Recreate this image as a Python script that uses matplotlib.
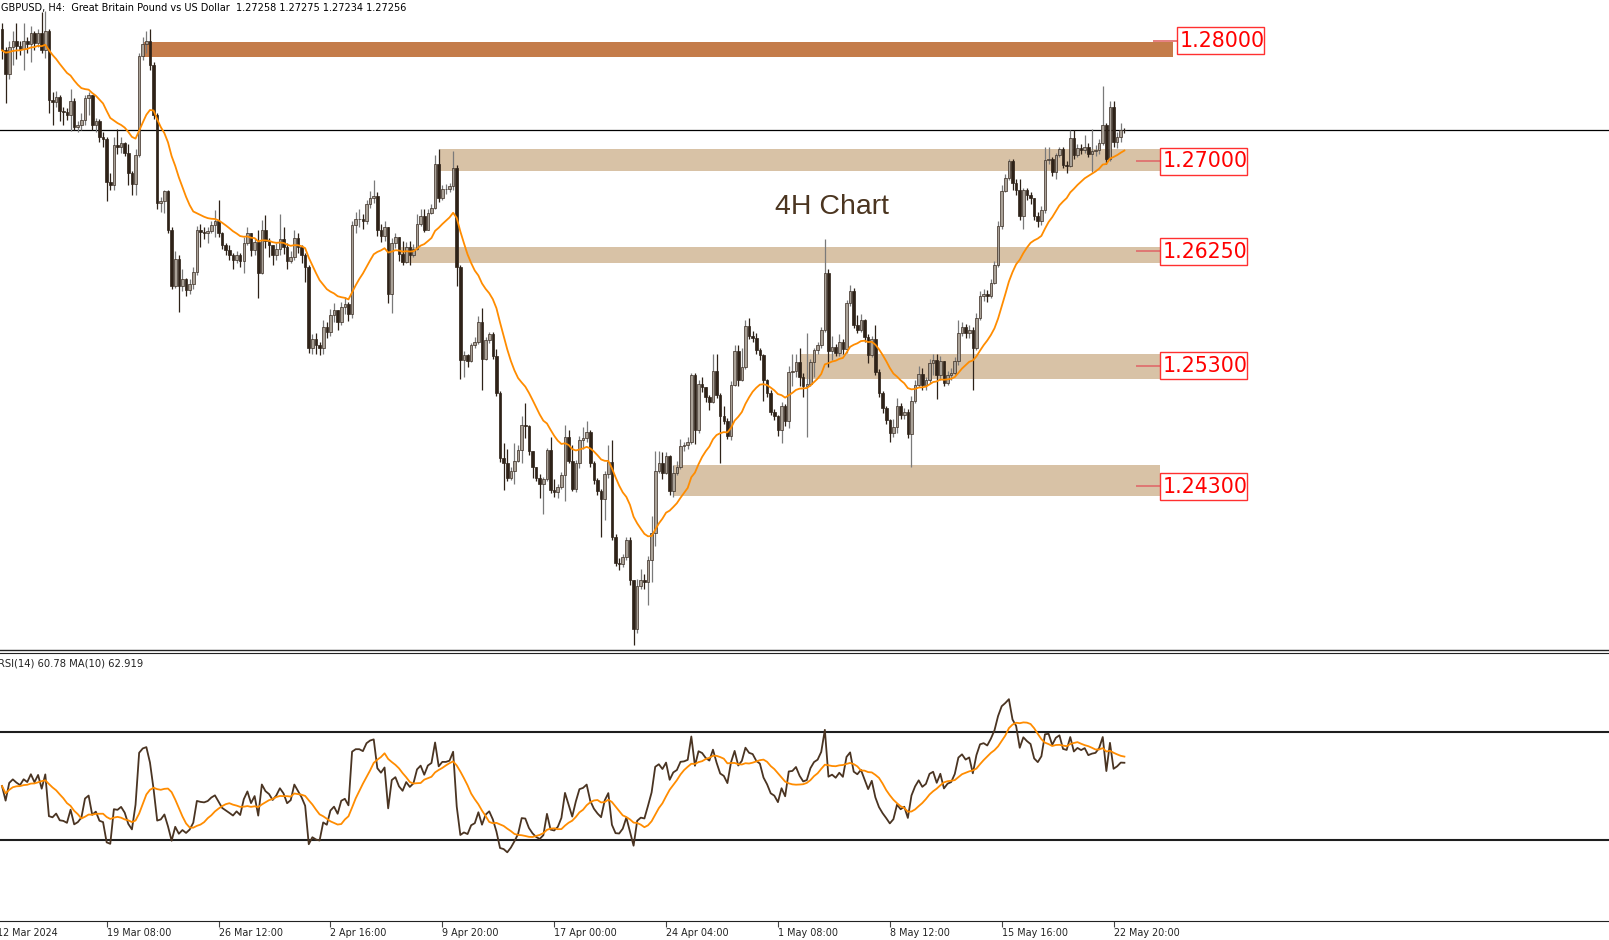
import matplotlib
matplotlib.use("Agg")
import matplotlib.pyplot as plt
from matplotlib.patches import Rectangle
import numpy as np
import pandas as pd

# GBPUSD H4 bars (one value per candle)
first_open = 1.2810
closes = [
    1.2792, 1.2772, 1.2795, 1.2800, 1.2796, 1.2793, 1.2800, 1.2797, 1.2806, 1.2798,
    1.2806, 1.2792, 1.2808, 1.2751, 1.2749, 1.2753, 1.2742, 1.2741, 1.2738, 1.2750,
    1.2728, 1.2730, 1.2734, 1.2752, 1.2755, 1.2730, 1.2733, 1.2720, 1.2718, 1.2683,
    1.2680, 1.2713, 1.2712, 1.2715, 1.2707, 1.2690, 1.2681, 1.2705, 1.2787, 1.2797,
    1.2800, 1.2780, 1.2738, 1.2665, 1.2667, 1.2675, 1.2643, 1.2596, 1.2619, 1.2596,
    1.2602, 1.2593, 1.2598, 1.2608, 1.2643, 1.2641, 1.2640, 1.2642, 1.2647, 1.2650,
    1.2640, 1.2630, 1.2626, 1.2622, 1.2618, 1.2622, 1.2617, 1.2632, 1.2640, 1.2626,
    1.2633, 1.2607, 1.2643, 1.2634, 1.2630, 1.2622, 1.2627, 1.2635, 1.2629, 1.2617,
    1.2620, 1.2636, 1.2629, 1.2622, 1.2612, 1.2545, 1.2552, 1.2547, 1.2545, 1.2562,
    1.2558, 1.2572, 1.2576, 1.2566, 1.2579, 1.2581, 1.2573, 1.2647, 1.2652, 1.2652,
    1.2650, 1.2664, 1.2669, 1.2671, 1.2643, 1.2638, 1.2645, 1.2590, 1.2632, 1.2637,
    1.2623, 1.2616, 1.2629, 1.2622, 1.2627, 1.2648, 1.2654, 1.2643, 1.2657, 1.2661,
    1.2698, 1.2669, 1.2677, 1.2677, 1.2679, 1.2694, 1.2612, 1.2535, 1.2539, 1.2534,
    1.2547, 1.2550, 1.2566, 1.2536, 1.2551, 1.2556, 1.2538, 1.2507, 1.2453, 1.2449,
    1.2437, 1.2443, 1.2451, 1.2460, 1.2481, 1.2480, 1.2459, 1.2446, 1.2437, 1.2432,
    1.2436, 1.2460, 1.2427, 1.2425, 1.2429, 1.2439, 1.2471, 1.2451, 1.2428, 1.2449,
    1.2468, 1.2470, 1.2475, 1.2449, 1.2435, 1.2426, 1.2419, 1.2440, 1.2450, 1.2388,
    1.2366, 1.2365, 1.2371, 1.2385, 1.2352, 1.2311, 1.2347, 1.2352, 1.2350, 1.2369,
    1.2391, 1.2443, 1.2449, 1.2441, 1.2455, 1.2426, 1.2441, 1.2446, 1.2463, 1.2464,
    1.2467, 1.2522, 1.2477, 1.2515, 1.2512, 1.2504, 1.2500, 1.2526, 1.2506, 1.2488,
    1.2484, 1.2472, 1.2514, 1.2542, 1.2518, 1.2529, 1.2563, 1.2555, 1.2553, 1.2543,
    1.2539, 1.2518, 1.2507, 1.2492, 1.2488, 1.2477, 1.2497, 1.2484, 1.2525, 1.2526,
    1.2533, 1.2521, 1.2513, 1.2515, 1.2533, 1.2543, 1.2547, 1.2560, 1.2607, 1.2542,
    1.2546, 1.2541, 1.2550, 1.2544, 1.2582, 1.2592, 1.2564, 1.2560, 1.2568, 1.2554,
    1.2539, 1.2552, 1.2525, 1.2507, 1.2495, 1.2485, 1.2474, 1.2479, 1.2497, 1.2489,
    1.2492, 1.2473, 1.2501, 1.2514, 1.2523, 1.2514, 1.2518, 1.2532, 1.2535, 1.2522,
    1.2534, 1.2516, 1.2522, 1.2524, 1.2534, 1.2557, 1.2562, 1.2557, 1.2560, 1.2545,
    1.2570, 1.2588, 1.2590, 1.2588, 1.2599, 1.2614, 1.2646, 1.2675, 1.2686, 1.2700,
    1.2682, 1.2676, 1.2654, 1.2676, 1.2672, 1.2669, 1.2654, 1.2650, 1.2659, 1.2701,
    1.2702, 1.2691, 1.2705, 1.2710, 1.2697, 1.2696, 1.2719, 1.2705, 1.2711, 1.2709,
    1.2712, 1.2706, 1.2708, 1.2709, 1.2715, 1.2730, 1.2702, 1.2745, 1.2716, 1.2720,
    1.27258, 1.27256,
]
highs = [
    1.2815, 1.2795, 1.2800, 1.2808, 1.2815, 1.2800, 1.2815, 1.2803, 1.2812, 1.2808,
    1.2810, 1.2824, 1.2825, 1.2810, 1.2757, 1.2758, 1.2755, 1.2745, 1.2744, 1.2760,
    1.2752, 1.2733, 1.2740, 1.2755, 1.2757, 1.2755, 1.2736, 1.2735, 1.2724, 1.2720,
    1.2690, 1.2720, 1.2727, 1.2720, 1.2716, 1.2714, 1.2692, 1.2710, 1.2790, 1.2803,
    1.2808, 1.2810, 1.2782, 1.2740, 1.2670, 1.2676, 1.2676, 1.2645, 1.2625, 1.2622,
    1.2610, 1.2603, 1.2602, 1.2612, 1.2646, 1.2648, 1.2645, 1.2645, 1.2650, 1.2659,
    1.2668, 1.2641, 1.2632, 1.2630, 1.2624, 1.2625, 1.2624, 1.2637, 1.2645, 1.2636,
    1.2636, 1.2643, 1.2651, 1.2655, 1.2636, 1.2630, 1.2632, 1.2656, 1.2645, 1.2632,
    1.2625, 1.2643, 1.2640, 1.2630, 1.2624, 1.2614, 1.2556, 1.2557, 1.2550, 1.2568,
    1.2566, 1.2577, 1.2582, 1.2576, 1.2583, 1.2587, 1.2583, 1.2650, 1.2658, 1.2660,
    1.2656, 1.2668, 1.2675, 1.2684, 1.2674, 1.2648, 1.2650, 1.2645, 1.2636, 1.2640,
    1.2628, 1.2634, 1.2633, 1.2634, 1.2631, 1.2656, 1.2660, 1.2660, 1.2660, 1.2664,
    1.2705, 1.2710, 1.2680, 1.2681, 1.2682, 1.2708, 1.2697, 1.2614, 1.2542, 1.2540,
    1.2549, 1.2554, 1.2571, 1.2578, 1.2554, 1.2558, 1.2558, 1.2544, 1.2509, 1.2466,
    1.2461, 1.2446, 1.2466, 1.2464, 1.2488, 1.2499, 1.2481, 1.2459, 1.2445, 1.2440,
    1.2438, 1.2462, 1.2471, 1.2436, 1.2432, 1.2442, 1.2481, 1.2477, 1.2464, 1.2452,
    1.2472, 1.2479, 1.2484, 1.2477, 1.2451, 1.2437, 1.2428, 1.2443, 1.2464, 1.2468,
    1.2390, 1.2370, 1.2374, 1.2388, 1.2388, 1.2350, 1.2353, 1.2361, 1.2357, 1.2372,
    1.2405, 1.2459, 1.2459, 1.2458, 1.2458, 1.2456, 1.2448, 1.2451, 1.2469, 1.2467,
    1.2471, 1.2524, 1.2524, 1.2518, 1.2521, 1.2510, 1.2506, 1.2540, 1.2540, 1.2507,
    1.2497, 1.2487, 1.2517, 1.2547, 1.2547, 1.2545, 1.2568, 1.2570, 1.2559, 1.2557,
    1.2545, 1.2540, 1.2519, 1.2510, 1.2494, 1.2489, 1.2500, 1.2498, 1.2530, 1.2540,
    1.2540, 1.2545, 1.2524, 1.2557, 1.2536, 1.2545, 1.2550, 1.2562, 1.2635, 1.2610,
    1.2555, 1.2548, 1.2556, 1.2552, 1.2585, 1.2597, 1.2595, 1.2572, 1.2573, 1.2569,
    1.2556, 1.2555, 1.2564, 1.2527, 1.2509, 1.2497, 1.2486, 1.2486, 1.2503, 1.2499,
    1.2495, 1.2494, 1.2505, 1.2518, 1.2530, 1.2528, 1.2521, 1.2536, 1.2540, 1.2540,
    1.2538, 1.2534, 1.2526, 1.2528, 1.2537, 1.2568, 1.2566, 1.2565, 1.2564, 1.2562,
    1.2574, 1.2592, 1.2594, 1.2593, 1.2602, 1.2617, 1.2650, 1.2680, 1.2689, 1.2702,
    1.2702, 1.2685, 1.2685, 1.2678, 1.2678, 1.2674, 1.2667, 1.2658, 1.2663, 1.2712,
    1.2712, 1.2703, 1.2707, 1.2712, 1.2712, 1.2700, 1.2726, 1.2726, 1.2714, 1.2714,
    1.2722, 1.2715, 1.2727, 1.2713, 1.2718, 1.2762, 1.2732, 1.2750, 1.2750, 1.2724,
    1.2732, 1.27275,
]
lows = [
    1.2785, 1.2748, 1.2768, 1.2780, 1.2785, 1.2788, 1.2776, 1.2790, 1.2782, 1.2792,
    1.2795, 1.2790, 1.2786, 1.2740, 1.2730, 1.2745, 1.2733, 1.2730, 1.2734, 1.2725,
    1.2726, 1.2724, 1.2726, 1.2730, 1.2738, 1.2726, 1.2724, 1.2716, 1.2712, 1.2667,
    1.2676, 1.2676, 1.2706, 1.2707, 1.2704, 1.2680, 1.2672, 1.2672, 1.2703, 1.2784,
    1.2790, 1.2776, 1.2735, 1.2660, 1.2658, 1.2657, 1.2640, 1.2594, 1.2595, 1.2575,
    1.2592, 1.2588, 1.2590, 1.2594, 1.2605, 1.2629, 1.2635, 1.2632, 1.2640, 1.2637,
    1.2637, 1.2627, 1.2622, 1.2618, 1.2610, 1.2615, 1.2612, 1.2607, 1.2630, 1.2621,
    1.2622, 1.2586, 1.2606, 1.2628, 1.2620, 1.2614, 1.2618, 1.2622, 1.2623, 1.2610,
    1.2615, 1.2618, 1.2624, 1.2615, 1.2600, 1.2541, 1.2540, 1.2540, 1.2539, 1.2540,
    1.2553, 1.2555, 1.2566, 1.2560, 1.2564, 1.2573, 1.2567, 1.2570, 1.2640, 1.2645,
    1.2644, 1.2648, 1.2661, 1.2665, 1.2638, 1.2633, 1.2634, 1.2582, 1.2574, 1.2628,
    1.2617, 1.2614, 1.2615, 1.2614, 1.2620, 1.2626, 1.2646, 1.2641, 1.2644, 1.2656,
    1.2660, 1.2666, 1.2668, 1.2673, 1.2674, 1.2676, 1.2596, 1.2519, 1.2521, 1.2529,
    1.2533, 1.2545, 1.2548, 1.2510, 1.2535, 1.2549, 1.2536, 1.2505, 1.2450, 1.2427,
    1.2434, 1.2435, 1.2432, 1.2450, 1.2449, 1.2470, 1.2456, 1.2437, 1.2434, 1.2420,
    1.2407, 1.2434, 1.2424, 1.2421, 1.2420, 1.2428, 1.2418, 1.2449, 1.2426, 1.2425,
    1.2445, 1.2461, 1.2467, 1.2446, 1.2432, 1.2423, 1.2388, 1.2402, 1.2437, 1.2385,
    1.2364, 1.2360, 1.2363, 1.2369, 1.2348, 1.2298, 1.2308, 1.2345, 1.2345, 1.2331,
    1.2350, 1.2380, 1.2441, 1.2436, 1.2440, 1.2423, 1.2421, 1.2439, 1.2444, 1.2459,
    1.2461, 1.2465, 1.2465, 1.2474, 1.2508, 1.2500, 1.2493, 1.2499, 1.2503, 1.2449,
    1.2482, 1.2469, 1.2468, 1.2513, 1.2513, 1.2517, 1.2527, 1.2552, 1.2550, 1.2540,
    1.2535, 1.2501, 1.2504, 1.2489, 1.2485, 1.2472, 1.2466, 1.2480, 1.2478, 1.2513,
    1.2521, 1.2513, 1.2504, 1.2471, 1.2513, 1.2521, 1.2540, 1.2545, 1.2558, 1.2529,
    1.2535, 1.2538, 1.2538, 1.2540, 1.2541, 1.2580, 1.2561, 1.2557, 1.2558, 1.2550,
    1.2532, 1.2537, 1.2522, 1.2504, 1.2491, 1.2482, 1.2467, 1.2471, 1.2474, 1.2486,
    1.2486, 1.2470, 1.2446, 1.2499, 1.2512, 1.2510, 1.2510, 1.2516, 1.2522, 1.2502,
    1.2518, 1.2513, 1.2514, 1.2518, 1.2522, 1.2531, 1.2555, 1.2553, 1.2553, 1.2510,
    1.2543, 1.2568, 1.2584, 1.2583, 1.2586, 1.2598, 1.2612, 1.2644, 1.2674, 1.2684,
    1.2676, 1.2672, 1.2651, 1.2644, 1.2668, 1.2664, 1.2651, 1.2645, 1.2647, 1.2657,
    1.2698, 1.2688, 1.2685, 1.2703, 1.2694, 1.2690, 1.2695, 1.2702, 1.2703, 1.2706,
    1.2707, 1.2703, 1.2691, 1.2704, 1.2706, 1.2713, 1.2698, 1.2700, 1.2712, 1.2711,
    1.2716, 1.27234,
]

# support / resistance zones
levels = [1.28000, 1.27000, 1.26250, 1.25300, 1.24300]
zone_tops = [1.27992, 1.27099, 1.26289, 1.25395, 1.24476]
zone_bottoms = [1.27862, 1.26914, 1.26151, 1.25190, 1.24219]
zone_starts = [39.2, 121.3, 110.6, 221.0, 186.3]
zone_ends = [324.5, 320.9, 320.9, 320.9, 320.9]
zone_colors = ["#c47c4a", "#d8c2a6", "#d8c2a6", "#d8c2a6", "#d8c2a6"]

tick_bars = [29, 60, 91, 122, 153, 184, 215, 246, 277, 308]
tick_labels = ["19 Mar 08:00", "26 Mar 12:00", "2 Apr 16:00", "9 Apr 20:00", "17 Apr 00:00",
               "24 Apr 04:00", "1 May 08:00", "8 May 12:00", "15 May 16:00", "22 May 20:00"]
last_price = 1.27256

closes = np.array(closes)
highs = np.array(highs)
lows = np.array(lows)
opens = np.concatenate([[first_open], closes[:-1]])
n = len(closes)
x = np.arange(n)
highs = np.maximum(highs, np.maximum(opens, closes))
lows = np.minimum(lows, np.minimum(opens, closes))

# indicators
ma20 = pd.Series(closes).ewm(span=20, adjust=False).mean().values
d = np.diff(closes, prepend=closes[0])
gain = np.clip(d, 0, None)
loss = np.clip(-d, 0, None)
ag = np.zeros(n)
al = np.zeros(n)
ag[0] = al[0] = np.mean(np.abs(d[1:15])) / 2
for i in range(1, n):
    ag[i] = (ag[i - 1] * 13 + gain[i]) / 14
    al[i] = (al[i - 1] * 13 + loss[i]) / 14
rsi = 100 - 100 / (1 + ag / al)
rsi_ma = pd.Series(rsi).rolling(10, min_periods=1).mean().values

W, H = 1609, 940
fig = plt.figure(figsize=(W / 100, H / 100), dpi=100)
fig.patch.set_facecolor("white")

px_per_bar = 3.609
xlim = (-2 / px_per_bar, (W - 2) / px_per_bar)
ppu = 12040.0  # pixels per price unit

ax = fig.add_axes([0, 290 / H, 1, 650 / H])
ax.set_xlim(*xlim)
ax.set_ylim(1.28 - (650 - 40.7) / ppu, 1.28 + 40.7 / ppu)
for s in ["top", "left", "right"]:
    ax.spines[s].set_visible(False)
ax.spines["bottom"].set_color("#222222")
ax.spines["bottom"].set_linewidth(1.0)
ax.set_xticks([])
ax.set_yticks([])

# zones and labels
bw = 87 / px_per_bar
bh = 27 / ppu
for k, lv in enumerate(levels):
    ax.add_patch(Rectangle((zone_starts[k], zone_bottoms[k]), zone_ends[k] - zone_starts[k],
                           zone_tops[k] - zone_bottoms[k], facecolor=zone_colors[k],
                           edgecolor="none", zorder=0))
    if k == 0:
        lx0, lx1 = 318.9, 325.6
    else:
        lx0, lx1 = 314.2, 320.9
    ax.plot([lx0, lx1], [lv, lv], color="#e06a6a", lw=1.2, zorder=3, solid_capstyle="butt")
    ax.add_patch(Rectangle((lx1, lv - bh / 2), bw, bh, facecolor="white",
                           edgecolor="#ff3030", lw=1.0, zorder=4))
    ax.text(lx1 + bw / 2 + 0.4, lv - 0.00003, "%.5f" % lv, color="#ff0000", fontsize=14.8,
            ha="center", va="center", zorder=5)

ax.axhline(last_price, color="black", lw=0.9, zorder=1)

# candles
up = closes >= opens
wick_col = np.where(up, "#7a7a7a", "#2e2218")
ax.vlines(x, lows, highs, colors=wick_col, lw=0.9, zorder=2)
body_lo = np.minimum(opens, closes)
body_h = np.maximum(np.abs(closes - opens), 0.00002)
ax.bar(x[up], body_h[up], bottom=body_lo[up], width=0.72, color="#aaa298",
       edgecolor="#3a2d23", linewidth=0.5, zorder=3)
ax.bar(x[~up], body_h[~up], bottom=body_lo[~up], width=0.72, color="#2e2218",
       edgecolor="#2e2218", linewidth=0.5, zorder=3)

ax.plot(x, ma20, color="#ff8c00", lw=1.3, zorder=4)

ax.text(230, 1.26615, "4H Chart", fontsize=20.5, family="Liberation Sans",
        color="#4b3520", ha="center", va="center")

fig.text(1 / W, 1 - 8 / H,
         "GBPUSD, H4:  Great Britain Pound vs US Dollar  1.27258 1.27275 1.27234 1.27256",
         fontsize=7, color="black", ha="left", va="center")

# RSI panel
ax2 = fig.add_axes([0, 19 / H, 1, 268 / H])
ax2.set_xlim(*xlim)
ax2.set_ylim(0.37, 98.9)
for s in ["left", "right"]:
    ax2.spines[s].set_visible(False)
ax2.spines["top"].set_color("#222222")
ax2.spines["bottom"].set_color("#222222")
ax2.set_yticks([])
ax2.axhline(70, color="#1e1e1e", lw=1.5)
ax2.axhline(30, color="#1e1e1e", lw=1.5)
ax2.plot(x, rsi, color="#4a3422", lw=1.3)
ax2.plot(x, rsi_ma, color="#ff8c00", lw=1.3)
ax2.text(-1.0, 95.0, "RSI(14) 60.78 MA(10) 62.919", fontsize=7.2, color="#222222",
         ha="left", va="center")

ax2.set_xticks(tick_bars)
ax2.set_xticklabels(tick_labels, fontsize=6.9, color="#222222")
for tl in ax2.get_xticklabels():
    tl.set_horizontalalignment("left")
ax2.tick_params(axis="x", direction="out", length=4, width=0.8, color="#444444", pad=1)
ax2.text(-1.3, -2.2, "12 Mar 2024", fontsize=6.9, color="#222222", ha="left", va="top",
         clip_on=False)

fig.savefig("out.png", dpi=100)
